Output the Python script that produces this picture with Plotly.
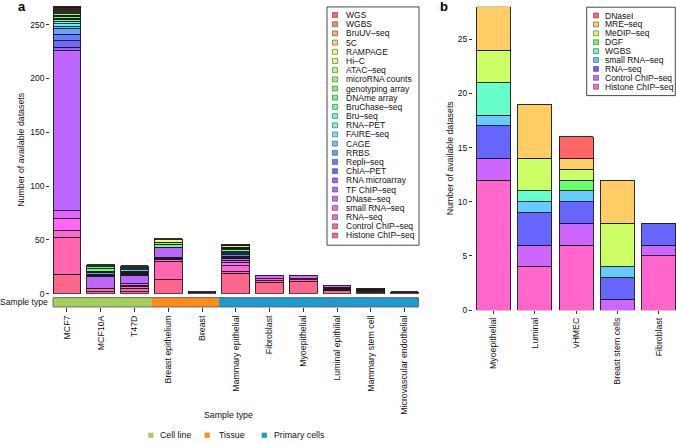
import colorsys
import plotly.graph_objects as go

W, H = 676, 445

# ---------------- Panel a data ----------------
samples_a = ["MCF7", "MCF10A", "T47D", "Breast epithelium", "Breast",
             "Mammary epithelial", "Fibroblast", "Myoepithelial",
             "Luminal epithilial", "Mammary stem cell", "Microvascular endothelial"]
sample_group_a = ["Cell line", "Cell line", "Cell line", "Tissue", "Tissue",
                  "Primary cells", "Primary cells", "Primary cells", "Primary cells",
                  "Primary cells", "Primary cells"]

histone_chip = [18, 2, 2, 13, 0, 19, 10, 11, 3, 1, 1]
control_chip = [34, 3, 3, 17, 0, 2, 2, 2, 1, 1, 1]
rna_seq = [7, 0, 2, 2, 1, 5, 2, 1, 1, 1, 0]
small_rna_seq = [11, 0, 1, 1, 0, 3, 0, 0, 1, 1, 0]
dnase_seq = [7, 0, 1, 1, 1, 2, 3, 3, 2, 1, 0]
tf_chip = [149, 11, 8, 9, 0, 2, 0, 0, 0, 0, 0]
rna_microarray = [3, 1, 1, 0, 0, 1, 0, 0, 0, 0, 0]
chia_pet = [6, 0, 1, 0, 0, 1, 0, 0, 0, 0, 0]
repli_seq = [6, 1, 1, 0, 0, 1, 0, 0, 0, 0, 0]
rrbs = [5, 2, 1, 0, 0, 1, 0, 0, 0, 0, 0]
cage = [2, 1, 1, 0, 0, 1, 0, 0, 0, 0, 0]
faire_seq = [3, 0, 1, 0, 0, 1, 0, 0, 0, 0, 0]
rna_pet = [2, 0, 1, 0, 0, 0, 0, 0, 0, 0, 0]
bru_seq = [2, 0, 1, 0, 0, 0, 0, 0, 0, 0, 0]
bruchase_seq = [1, 0, 0, 0, 0, 0, 0, 0, 0, 0, 0]
dname_array = [2, 2, 1, 3, 0, 2, 0, 0, 0, 0, 0]
genotyping_array = [1, 2, 0, 0, 0, 1, 0, 0, 0, 0, 0]
microrna_counts = [1, 1, 0, 2, 0, 1, 0, 0, 0, 0, 0]
atac_seq = [1, 1, 0, 0, 0, 2, 0, 0, 0, 0, 0]
hi_c = [1, 0, 0, 0, 0, 0, 0, 0, 0, 0, 0]
rampage = [1, 0, 0, 2, 0, 0, 0, 0, 0, 0, 0]
five_c = [1, 0, 0, 1, 0, 0, 0, 0, 0, 0, 0]
bruuv_seq = [1, 0, 0, 0, 0, 0, 0, 0, 0, 0, 0]
wgbs_a = [1, 0, 0, 0, 0, 0, 0, 0, 0, 0, 0]
wgs = [1, 0, 0, 0, 0, 1, 0, 0, 0, 0, 0]

# legend order (top -> bottom)
assays_a = ["WGS", "WGBS", "BruUV–seq", "5C", "RAMPAGE", "Hi–C", "ATAC–seq",
            "microRNA counts", "genotyping array", "DNAme array", "BruChase–seq",
            "Bru–seq", "RNA–PET", "FAIRE–seq", "CAGE", "RRBS", "Repli–seq",
            "ChIA–PET", "RNA microarray", "TF ChIP–seq", "DNase–seq",
            "small RNA–seq", "RNA–seq", "Control ChIP–seq", "Histone ChIP–seq"]
values_a = [wgs, wgbs_a, bruuv_seq, five_c, rampage, hi_c, atac_seq,
            microrna_counts, genotyping_array, dname_array, bruchase_seq,
            bru_seq, rna_pet, faire_seq, cage, rrbs, repli_seq, chia_pet,
            rna_microarray, tf_chip, dnase_seq, small_rna_seq, rna_seq,
            control_chip, histone_chip]

# ---------------- Panel b data ----------------
samples_b = ["Myoepithelial", "Luminal", "vHMEC", "Breast stem cells", "Fibroblast"]
assays_b = ["DNaseI", "MRE–seq", "MeDIP–seq", "DGF", "WGBS", "small RNA–seq",
            "RNA–seq", "Control ChIP–seq", "Histone ChIP–seq"]
dnasei_b = [0, 0, 2, 0, 0]
mre_b = [4, 5, 1, 4, 0]
medip_b = [3, 3, 1, 4, 0]
dgf_b = [0, 0, 1, 0, 0]
wgbs_b = [3, 1, 0, 0, 0]
small_rna_b = [1, 1, 1, 1, 0]
rna_seq_b = [3, 3, 2, 2, 2]
control_chip_b = [2, 2, 2, 1, 1]
histone_chip_b = [12, 4, 6, 0, 5]
values_b = [dnasei_b, mre_b, medip_b, dgf_b, wgbs_b, small_rna_b, rna_seq_b,
            control_chip_b, histone_chip_b]

group_colors = {"Cell line": "#A6CE5C", "Tissue": "#FF8C1A", "Primary cells": "#1E9BCC"}


def rainbow(n, s=0.6, v=1.0):
    out = []
    for i in range(n):
        r, g, b = colorsys.hsv_to_rgb(i / n, s, v)
        out.append("#%02X%02X%02X" % (round(r * 255), round(g * 255), round(b * 255)))
    return out


cols_a = rainbow(len(assays_a))
cols_b = rainbow(len(assays_b))


def px(x):
    return x / W


def py(y):
    return 1 - y / H


fig = go.Figure()
LINE = dict(color="#1a1a1a", width=0.9)

# stacked bars: bottom series first
for name, vals, col in reversed(list(zip(assays_a, values_a, cols_a))):
    fig.add_trace(go.Bar(x=samples_a, y=[v if v else None for v in vals], name=name,
                         marker=dict(color=col, line=LINE), xaxis="x", yaxis="y",
                         showlegend=False))
for name, vals, col in reversed(list(zip(assays_b, values_b, cols_b))):
    fig.add_trace(go.Bar(x=samples_b, y=[v if v else None for v in vals], name=name,
                         marker=dict(color=col, line=LINE), xaxis="x2", yaxis="y2",
                         showlegend=False))

FONT = "Liberation Sans, Arial, sans-serif"
tickfont = dict(family=FONT, size=8.8, color="#111")

fig.update_layout(
    width=W, height=H, margin=dict(l=0, r=0, t=0, b=0),
    paper_bgcolor="white", plot_bgcolor="white",
    barmode="stack", bargap=0.175,
    font=dict(family=FONT, size=8.8, color="#111"),
    xaxis=dict(domain=[px(50.1), px(421.4)], range=[-0.5, 10.5], anchor="free",
               position=py(310.5), tickangle=-90, ticks="outside", ticklen=4,
               tickcolor="#333", tickfont=tickfont, showline=False, showgrid=False,
               zeroline=False, categoryorder="array", categoryarray=samples_a),
    yaxis=dict(domain=[py(297), py(3.2)], range=[0, 270], anchor="x",
               tickvals=[0, 50, 100, 150, 200, 250], ticks="outside", ticklen=3,
               tickcolor="#333", tickfont=dict(family=FONT, size=8.5, color="#111"),
               showline=False, showgrid=False, zeroline=False),
    xaxis2=dict(domain=[px(473), 1.0], range=[-0.5, 4.42], anchor="y2",
                tickangle=-90, ticks="outside", ticklen=3, tickcolor="#333",
                tickfont=tickfont, showline=False, showgrid=False, zeroline=False,
                categoryorder="array", categoryarray=samples_b),
    yaxis2=dict(domain=[py(313.7), py(6.8)], range=[0, 28], anchor="x2",
                tickvals=[0, 5, 10, 15, 20, 25], ticks="outside", ticklen=3,
                tickcolor="#333", tickfont=dict(family=FONT, size=8.5, color="#111"),
                showline=False, showgrid=False, zeroline=False),
)

shapes = []
annotations = []

# sample type colour strip (data x coordinates)
half = (1 - 0.175) / 2
groups_order = []
for i, g in enumerate(sample_group_a):
    if not groups_order or groups_order[-1][0] != g:
        groups_order.append([g, i, i])
    else:
        groups_order[-1][2] = i
for g, i0, i1 in groups_order:
    x0 = -half if i0 == 0 else i0 - 0.5
    x1 = (len(samples_a) - 1 + half) if i1 == len(samples_a) - 1 else i1 + 0.5
    shapes.append(dict(type="rect", xref="x", yref="paper", x0=x0, x1=x1,
                       y0=py(310.5), y1=py(301), fillcolor=group_colors[g],
                       line=dict(width=0), layer="above"))
shapes.append(dict(type="rect", xref="x", yref="paper", x0=-half,
                   x1=len(samples_a) - 1 + half, y0=py(310.5), y1=py(301),
                   fillcolor="rgba(0,0,0,0)", line=dict(color="#555", width=0.8)))
annotations.append(dict(text="Sample type", xref="paper", yref="paper", x=px(49.5),
                        y=py(305.8), xanchor="right", yanchor="middle",
                        showarrow=False, font=dict(family=FONT, size=8.6, color="#111")))

# panel a legend (manual, compact)
shapes.append(dict(type="rect", xref="paper", yref="paper", x0=px(327), x1=px(419),
                   y0=py(248), y1=py(7), line=dict(color="#333", width=0.9),
                   fillcolor="white"))
for i, (name, col) in enumerate(zip(assays_a, cols_a)):
    yc = 15.2 + 9.29 * i
    shapes.append(dict(type="rect", xref="paper", yref="paper", x0=px(332.5),
                       x1=px(337.5), y0=py(yc + 2.5), y1=py(yc - 2.5), fillcolor=col,
                       line=dict(color="#333", width=0.5)))
    annotations.append(dict(text=name, xref="paper", yref="paper", x=px(343.5),
                            y=py(yc), xanchor="left", yanchor="middle", showarrow=False,
                            font=dict(family=FONT, size=8.5, color="#111")))

# panel b legend
shapes.append(dict(type="rect", xref="paper", yref="paper", x0=px(586.7), x1=px(675.3),
                   y0=py(96.7), y1=py(7.3), line=dict(color="#333", width=0.9),
                   fillcolor="white"))
for i, (name, col) in enumerate(zip(assays_b, cols_b)):
    yc = 15.7 + 9.0 * i
    shapes.append(dict(type="rect", xref="paper", yref="paper", x0=px(593.5),
                       x1=px(598.5), y0=py(yc + 2.5), y1=py(yc - 2.5), fillcolor=col,
                       line=dict(color="#333", width=0.5)))
    annotations.append(dict(text=name, xref="paper", yref="paper", x=px(603),
                            y=py(yc), xanchor="left", yanchor="middle", showarrow=False,
                            font=dict(family=FONT, size=8.5, color="#111")))

# bottom group legend
for g, sx, tx in [("Cell line", 148.3, 157.7), ("Tissue", 204.5, 216.7),
                  ("Primary cells", 261.7, 272.3)]:
    shapes.append(dict(type="rect", xref="paper", yref="paper", x0=px(sx),
                       x1=px(sx + 5.2), y0=py(442.8), y1=py(437.6),
                       fillcolor=group_colors[g], line=dict(width=0)))
    annotations.append(dict(text=g, xref="paper", yref="paper", x=px(tx), y=py(440.2),
                            xanchor="left", yanchor="middle", showarrow=False,
                            font=dict(family=FONT, size=8.8, color="#111")))

# axis titles
annotations.append(dict(text="Sample type", xref="paper", yref="paper", x=px(228),
                        y=py(419.5), xanchor="center", yanchor="middle", showarrow=False,
                        font=dict(family=FONT, size=8.8, color="#111")))
annotations.append(dict(text="Number of available datasets", xref="paper", yref="paper",
                        x=px(21.5), y=py(151), xanchor="center", yanchor="middle",
                        textangle=-90, showarrow=False,
                        font=dict(family=FONT, size=8.8, color="#111")))
annotations.append(dict(text="Number of available datasets", xref="paper", yref="paper",
                        x=px(450), y=py(160), xanchor="center", yanchor="middle",
                        textangle=-90, showarrow=False,
                        font=dict(family=FONT, size=8.8, color="#111")))

# panel letters
annotations.append(dict(text="<b>a</b>", xref="paper", yref="paper", x=px(21.5),
                        y=py(7), xanchor="center", yanchor="middle", showarrow=False,
                        font=dict(family=FONT, size=13, color="#000")))
annotations.append(dict(text="<b>b</b>", xref="paper", yref="paper", x=px(444),
                        y=py(6.5), xanchor="center", yanchor="middle", showarrow=False,
                        font=dict(family=FONT, size=13, color="#000")))

fig.update_layout(shapes=shapes, annotations=annotations)
fig.write_html("out.html", config={"displayModeBar": False},
               post_script="document.body.style.margin='0';document.body.style.padding='0';")
